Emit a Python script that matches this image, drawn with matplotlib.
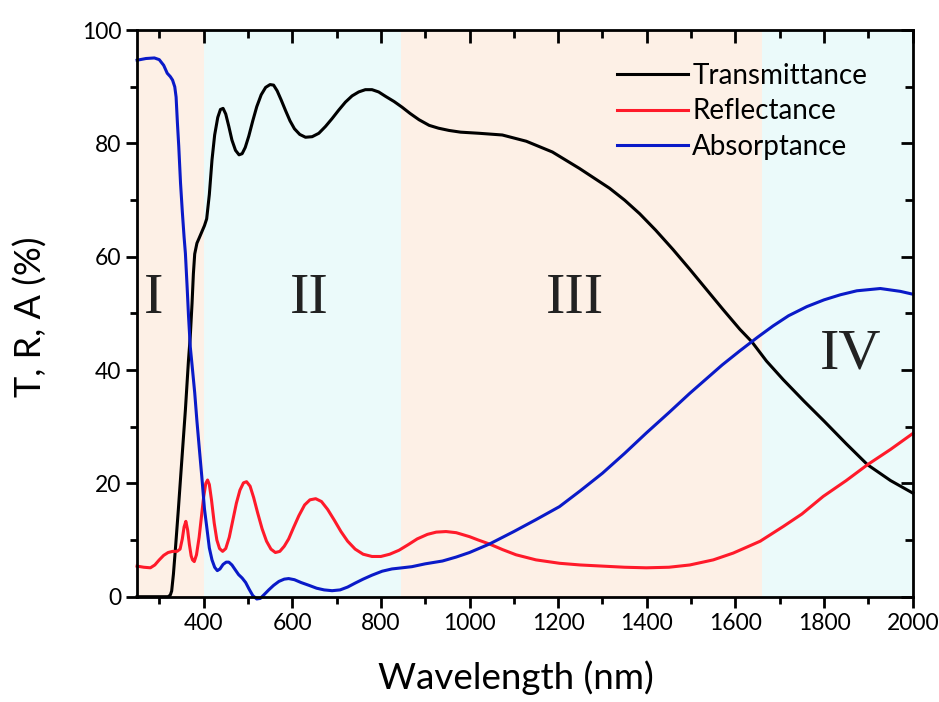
import matplotlib.pyplot as plt
from matplotlib.ticker import MultipleLocator

# wavelengths (nm) and values (%)
wl_T = [250, 300, 320, 325, 328, 332, 337, 343, 351, 359, 366, 370, 374, 377, 380, 385, 390, 396, 402, 407,
        413, 419, 425, 432, 438, 444, 450, 457, 464, 472, 480, 487, 494, 502, 511, 520, 530, 540, 550, 558,
        566, 575, 585, 595, 605, 617, 630, 645, 660, 675, 690, 705, 720, 735, 750, 765, 780, 795, 811, 830,
        848, 866, 886, 909, 930, 954, 980, 1022, 1074, 1128, 1187, 1248, 1316, 1350, 1384, 1420, 1459, 1497,
        1535, 1572, 1610, 1637, 1670, 1708, 1755, 1800, 1850, 1898, 1950, 2000]
trans = [0, 0, 0, 0.3, 1, 4, 9, 15.3, 24.2, 33, 41.8, 46, 51.8, 57, 60.5, 62.4, 63.3, 64.4, 65.5, 66.7,
         71, 77.1, 81.5, 84.6, 86, 86.2, 85.2, 83, 80.6, 78.8, 78.0, 78.2, 79.3, 81.3, 84, 86.5, 88.6, 89.9, 90.4, 90.3,
         89.3, 87.7, 85.8, 84.0, 82.6, 81.6, 81.1, 81.2, 81.8, 83.0, 84.4, 85.9, 87.3, 88.4, 89.1, 89.5, 89.5, 89.1, 88.3, 87.4,
         86.4, 85.3, 84.2, 83.2, 82.7, 82.3, 82.0, 81.8, 81.5, 80.4, 78.5, 75.6, 72.1, 70.0, 67.6, 64.7, 61.3, 57.8,
         54.2, 50.7, 47.2, 45, 41.6, 38.3, 34.5, 31, 27, 23.3, 20.5, 18.3]

wl_R = [250, 265, 280, 290, 300, 310, 320, 330, 340, 347, 352, 356, 360, 364, 368, 372, 375, 379, 384, 390,
        395, 400, 405, 409, 413, 418, 424, 430, 436, 443, 450, 458, 466, 474, 482, 490, 497, 505, 513, 522,
        532, 542, 552, 562, 572, 582, 592, 603, 615, 628, 640, 653, 666, 680, 695, 710, 725, 742, 760, 780,
        800, 820, 841, 862, 882, 905, 925, 947, 970, 1000, 1020, 1045, 1075, 1105, 1150, 1203, 1250, 1300, 1350, 1399,
        1450, 1497, 1550, 1595, 1630, 1656, 1680, 1708, 1750, 1798, 1850, 1898, 1950, 2000]
refl = [5.4, 5.2, 5.1, 5.6, 6.5, 7.3, 7.8, 8.0, 8.0, 8.4, 10.2, 12.3, 13.3, 11.8, 9.2, 7.2, 6.5, 6.2, 7.4, 10.5,
        14, 17.5, 20, 20.6, 19.8, 17, 13, 10, 8.5, 8.0, 8.5, 10.5, 13.5, 16.5, 18.8, 20.1, 20.3, 19.5, 17.5, 14.8,
        12, 9.8, 8.4, 7.8, 8.0, 8.9, 10.2, 12.2, 14.3, 16.2, 17.1, 17.3, 16.8, 15.4, 13.5, 11.5, 9.8, 8.4, 7.5, 7.1,
        7.1, 7.5, 8.2, 9.2, 10.2, 11.0, 11.4, 11.5, 11.3, 10.6, 10.0, 9.3, 8.3, 7.4, 6.5, 5.9, 5.6, 5.4, 5.2, 5.1,
        5.2, 5.6, 6.5, 7.7, 8.9, 9.8, 11.0, 12.4, 14.6, 17.7, 20.5, 23.3, 26, 28.8]

wl_A = [250, 270, 289, 300, 310, 318, 325, 330, 335, 338, 341, 344, 348, 352, 356, 359, 363, 366, 370, 374,
        380, 385, 390, 396, 402, 407, 413, 419, 425, 431, 437, 444, 451, 457, 464, 471, 479, 487, 495, 503,
        511, 520, 528, 537, 547, 558, 570, 582, 592, 605, 620, 638, 655, 672, 690, 708, 725, 742, 760, 780,
        803, 825, 848, 870, 900, 939, 970, 1000, 1045, 1100, 1150, 1203, 1250, 1300, 1350, 1399, 1450, 1497, 1535, 1570,
        1610, 1650, 1685, 1720, 1761, 1800, 1837, 1874, 1927, 1972, 2000]
absorp = [94.7, 95.0, 95.1, 94.8, 93.8, 92.4, 91.8, 91.2, 90.0, 88.2, 83.6, 79.5, 73, 68, 63.5, 60.6, 54.5, 49.6, 44.1, 40.9,
          36, 31, 26.5, 21.2, 15.5, 12.4, 8.6, 6.5, 5.2, 4.6, 4.9, 5.7, 6.1, 6.1, 5.6, 4.8, 3.9, 3.3, 2.5, 1.3,
          0.2, -0.4, -0.3, 0.4, 1.2, 2.0, 2.7, 3.1, 3.2, 3.0, 2.5, 2.0, 1.5, 1.2, 1.06, 1.2, 1.7, 2.4, 3.1, 3.8,
          4.5, 4.9, 5.1, 5.3, 5.8, 6.3, 7.0, 7.8, 9.3, 11.5, 13.6, 15.9, 18.7, 21.8, 25.3, 28.9, 32.5, 35.9, 38.5, 40.9,
          43.4, 45.8, 47.8, 49.6, 51.2, 52.4, 53.3, 54.0, 54.4, 53.9, 53.4]

# spectral regions
region_edges = [250, 400, 845, 1660, 2000]
region_names = ['I', 'II', 'III', 'IV']
region_label_x = [287, 638, 1239, 1859]
region_label_y = [52.5, 52.5, 52.5, 42.7]

fig = plt.figure(figsize=(9.39, 7.02), dpi=100)
ax = fig.add_axes([0.146, 0.150, 0.826, 0.807])

shades = ['#fdf0e6', '#ebfafa']
for i in range(len(region_names)):
    ax.axvspan(region_edges[i], region_edges[i + 1], color=shades[i % 2], lw=0, zorder=0)
    ax.text(region_label_x[i], region_label_y[i], region_names[i], ha='center', va='center',
            fontsize=42, family='Liberation Serif', color='#222222')

ax.plot(wl_T, trans, color='black', lw=2.2, label='Transmittance', clip_on=False)
ax.plot(wl_R, refl, color='#ff1a2a', lw=2.2, label='Reflectance', clip_on=False)
ax.plot(wl_A, absorp, color='#0a1ac8', lw=2.2, label='Absorptance', clip_on=False)

ax.set_xlim(250, 2000)
ax.set_ylim(0, 100)
ax.set_xticks(range(400, 2001, 200))
ax.xaxis.set_minor_locator(MultipleLocator(100))
ax.yaxis.set_major_locator(MultipleLocator(20))
ax.yaxis.set_minor_locator(MultipleLocator(10))

for s in ax.spines.values():
    s.set_linewidth(2)
ax.tick_params(which='both', direction='out', width=2, top=False, right=False)
ax.tick_params(which='major', length=8)
ax.tick_params(which='minor', length=5)

# inward ticks on the top and right
top = ax.secondary_xaxis('top')
top.set_xticks(range(400, 2001, 200))
top.xaxis.set_minor_locator(MultipleLocator(100))
top.tick_params(which='both', direction='in', width=2, labeltop=False)
top.tick_params(which='major', length=9)
top.tick_params(which='minor', length=6)
right = ax.secondary_yaxis('right')
right.yaxis.set_major_locator(MultipleLocator(20))
right.yaxis.set_minor_locator(MultipleLocator(10))
right.tick_params(which='both', direction='in', width=2, labelright=False)
right.tick_params(which='major', length=9)
right.tick_params(which='minor', length=6)

for lab in ax.get_xticklabels() + ax.get_yticklabels():
    lab.set_family('Lato')
    lab.set_fontsize(16.5)

ax.set_xlabel('Wavelength (nm)', fontsize=26.5, family='Lato')
ax.set_ylabel('T, R, A (%)', fontsize=26, family='Lato')
ax.xaxis.set_label_coords(0.488, -0.112)
ax.yaxis.set_label_coords(-0.115, 0.495)

ax.legend(loc='upper left', bbox_to_anchor=(0.612, 0.952), frameon=False,
          prop={'family': 'Lato', 'size': 20}, handlelength=2.55, handletextpad=0.15,
          labelspacing=0.34, borderaxespad=0, borderpad=0.2)

fig.savefig('out.png', dpi=100)
